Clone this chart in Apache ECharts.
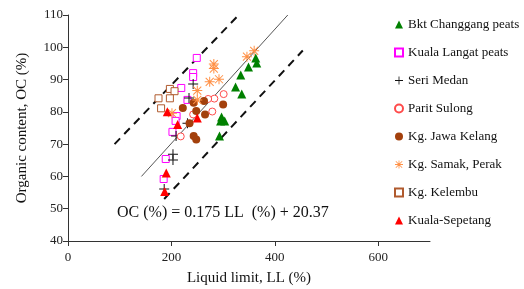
<!DOCTYPE html>
<html>
<head>
<meta charset="utf-8">
<script src="https://cdn.jsdelivr.net/npm/echarts@6/dist/echarts.min.js"></script>
<style>
  html, body { margin: 0; padding: 0; background: #fff; }
  #chart { width: 524px; height: 289px; }
</style>
</head>
<body>
<div id="chart"></div>
<script>
// values: [LL (%), OC (%)]
var bktChanggang = [[363, 96.7], [365, 95.1], [349, 93.9], [334, 91.4], [324, 87.7], [336, 85.5], [297, 78.4], [295, 77.2], [303, 77.2], [293, 72.5]];
var kualaLangat = [[249, 96.7], [242, 92.0], [242, 90.8], [219, 87.4], [231, 83.7], [210, 78.7], [208, 77.2], [202, 73.8], [189, 65.4], [185, 59.2]];
var seriMedan = [[242, 88.6], [234, 84.3], [231, 76.5], [209, 72.5], [203, 66.9], [203, 65.1], [186, 56.1]];
var paritSulong = [[301, 85.5], [283, 84.1], [271, 84.0], [279, 80.1], [242, 79.2], [218, 72.4]];
var jawaKelang = [[222, 81.2], [243, 82.8], [248, 80.3], [263, 83.4], [265, 79.2], [300, 82.3], [235, 76.5], [243, 72.5], [248, 71.4]];
var samakPerak = [[282, 94.8], [282, 93.4], [274, 89.3], [292, 90.1], [250, 86.6], [250, 83.7], [346, 97.1], [360, 98.9], [201, 79.6]];
var kelembu = [[197, 87.1], [206, 86.4], [175, 84.2], [197, 84.2], [180, 81.1]];
var kualaSepetang = [[192, 80.0], [250, 78.1], [212, 76.1], [190, 61.1], [187, 55.3]];

// trend line and bounds as drawn
var fitLine = [[142, 60], [425, 110]];
var upperBound = [[90, 70], [330, 110]];
var lowerBound = [[186, 53], [454, 99]];

var xTicks = [0, 200, 400, 600];
var equation = "OC (%) = 0.175 LL  (%) + 20.37";

var serif = "Liberation Serif";
var plusPath = "path://M4.5,0h1v4.5h4.5v1h-4.5v4.5h-1v-4.5h-4.5v-1h4.5z";
var starPath = "path://M4.5,0h1v4.5h4.5v1h-4.5v4.5h-1v-4.5h-4.5v-1h4.5z" +
  "M1.35,0.65L9.35,8.65L8.65,9.35L0.65,1.35Z" +
  "M8.65,0.65L9.35,1.35L1.35,9.35L0.65,8.65Z";

function pts(name, data, symbol, size, fill, border) {
  return {
    name: name,
    type: "scatter",
    data: data,
    symbol: symbol,
    symbolSize: size,
    itemStyle: border
      ? { color: "#fff", borderColor: border, borderWidth: 1, opacity: 1 }
      : { color: fill, opacity: 1 },
    z: 3
  };
}

function guide(data, dashed) {
  return {
    type: "line",
    data: data,
    symbol: "none",
    silent: true,
    lineStyle: dashed
      ? { color: "#111", width: 2, type: [8, 6] }
      : { color: "#555", width: 1 },
    z: 2
  };
}

var myChart = echarts.init(document.getElementById("chart"));
myChart.setOption({
  animation: false,
  textStyle: { fontFamily: serif },
  grid: { left: 68, top: 15, right: 94, bottom: 48, outerBoundsMode: "none" },
  legend: {
    orient: "vertical",
    left: 389,
    top: 13,
    itemWidth: 8,
    itemHeight: 8,
    itemGap: 15,
    textStyle: { fontFamily: serif, fontSize: 13, color: "#111" },
    data: ["Bkt Changgang peats", "Kuala Langat peats", "Seri Medan", "Parit Sulong",
      "Kg. Jawa Kelang", "Kg. Samak, Perak", "Kg. Kelembu", "Kuala-Sepetang"]
  },
  xAxis: {
    type: "value",
    min: 0,
    max: 700,
    name: "Liquid limit, LL (%)",
    nameLocation: "middle",
    nameGap: 30,
    nameTextStyle: { fontFamily: serif, fontSize: 15, color: "#111" },
    axisLine: { lineStyle: { color: "#333" } },
    axisTick: { length: 5, customValues: xTicks, lineStyle: { color: "#333" } },
    axisLabel: { customValues: xTicks, fontFamily: serif, fontSize: 13, color: "#222", margin: 10 },
    splitLine: { show: false }
  },
  yAxis: {
    type: "value",
    min: 40,
    max: 110,
    interval: 10,
    name: "Organic content, OC (%)",
    nameLocation: "middle",
    nameGap: 38,
    nameTextStyle: { fontFamily: serif, fontSize: 15, color: "#111" },
    axisLine: { show: true, lineStyle: { color: "#333" } },
    axisTick: { show: true, length: 5, lineStyle: { color: "#333" } },
    axisLabel: { fontFamily: serif, fontSize: 13, color: "#222", margin: 5 },
    splitLine: { show: false }
  },
  graphic: [{
    type: "text",
    left: 117,
    top: 205,
    style: { text: equation, font: "16px " + serif, fill: "#111" }
  }],
  series: [
    guide(fitLine, false),
    guide(upperBound, true),
    guide(lowerBound, true),
    pts("Bkt Changgang peats", bktChanggang, "triangle", 9, "#008000"),
    pts("Kuala Langat peats", kualaLangat, "rect", 7, null, "#ff00ff"),
    pts("Seri Medan", seriMedan, plusPath, 10, "#111"),
    pts("Parit Sulong", paritSulong, "circle", 7, null, "#ff4b4b"),
    pts("Kg. Jawa Kelang", jawaKelang, "circle", 8, "#a3400c"),
    pts("Kg. Samak, Perak", samakPerak, starPath, 10, "#ff9147"),
    pts("Kg. Kelembu", kelembu, "rect", 7, null, "#b05a2e"),
    pts("Kuala-Sepetang", kualaSepetang, "triangle", 9, "#ff0000")
  ]
});
</script>
</body>
</html>
